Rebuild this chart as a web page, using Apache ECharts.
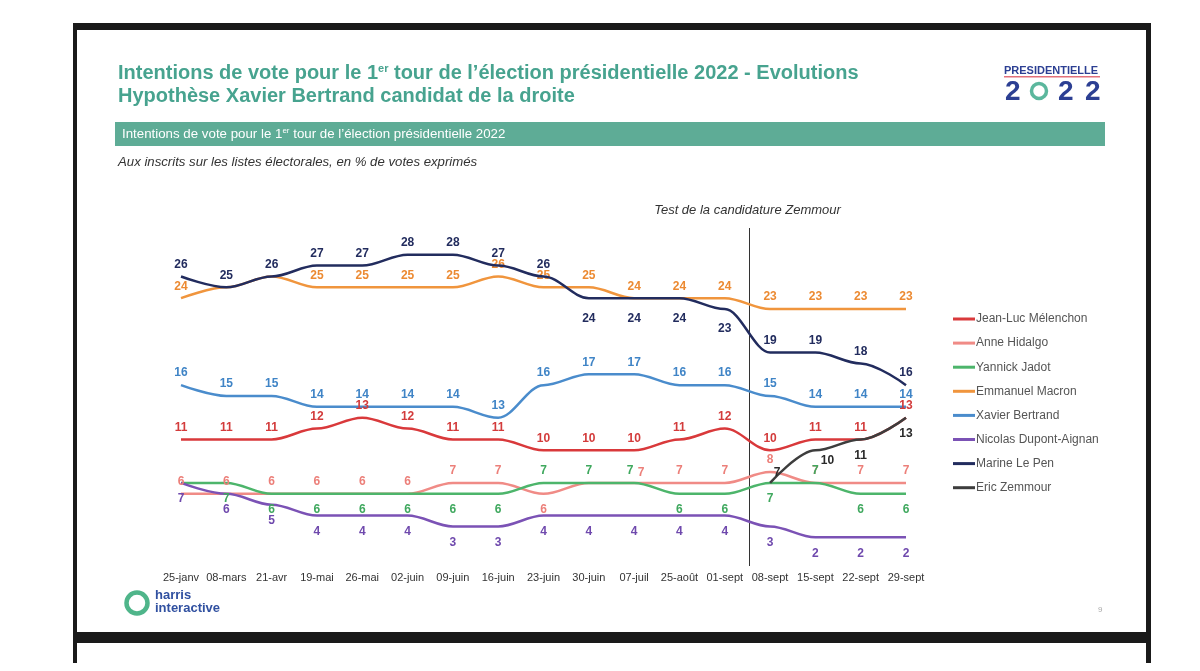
<!DOCTYPE html>
<html><head><meta charset="utf-8">
<script src="https://cdn.jsdelivr.net/npm/echarts@6/dist/echarts.min.js"></script>
<style>html,body{margin:0;padding:0;background:#fff}#c{width:1200px;height:671px}</style>
</head><body><div id="c"></div>
<script>
// ---- DATA ----
const categories = ['25-janv','08-mars','21-avr','19-mai','26-mai','02-juin','09-juin','16-juin','23-juin','30-juin','07-juil','25-août','01-sept','08-sept','15-sept','22-sept','29-sept'];
const melenchon = [11,11,11,12,13,12,11,11,10,10,10,11,12,10,11,11,13];
const hidalgo   = [6,6,6,6,6,6,7,7,6,7,7,7,7,8,7,7,7];
const jadot     = [7,7,6,6,6,6,6,6,7,7,7,6,6,7,7,6,6];
const macron    = [24,25,26,25,25,25,25,26,25,25,24,24,24,23,23,23,23];
const bertrand  = [16,15,15,14,14,14,14,13,16,17,17,16,16,15,14,14,14];
const dupont    = [7,6,5,4,4,4,3,3,4,4,4,4,4,3,2,2,2];
const lepen     = [26,25,26,27,27,28,28,27,26,24,24,24,23,19,19,18,16];
const zemmour   = [null,null,null,null,null,null,null,null,null,null,null,null,null,7,10,11,13];
const seriesNames = ['Jean-Luc Mélenchon','Anne Hidalgo','Yannick Jadot','Emmanuel Macron','Xavier Bertrand','Nicolas Dupont-Aignan','Marine Le Pen','Eric Zemmour'];
const seriesValues = [melenchon,hidalgo,jadot,macron,bertrand,dupont,lepen,zemmour];

// ---- STYLE ----
const colors = ['#d9393b','#f08b86','#4db56b','#f0953d','#4a8ccc','#7b52b5','#222c5e','#3d3d3d'];
const labelColors = ['#d33b3b','#ec7f79','#3fa85e','#ec8a32','#3f84c6','#6f49ad','#222c5e','#2a2a2a'];
// t=top b=bottom B=bottom far n=none R=top shifted right L=top shifted left S=bottom shifted right
const labelPlace = [
  'ttttttttttttttttt',
  'ttttttttbnRtttttt',
  'nbbbbbbbttLbbbtbb',
  'tnntttttttttttttt',
  'ttttttttttttttttt',
  'bbbbbbbbbbbbbbbbb',
  'tttttttttBBBBtttt',
  'nnnnnnnnnnnnnRSbb'
];
const sans = "'Liberation Sans',Arial,sans-serif";

function buildData(vals, places){
  return vals.map((v,i)=>{
    const p = places[i];
    if (v===null) return null;
    const item = {value:v, label:{}};
    if (p==='n') item.label.show=false;
    else if (p==='b') { item.label.position='bottom'; item.label.distance=10; }
    else if (p==='B') { item.label.position='bottom'; item.label.distance=14; }
    else if (p==='S') { item.label.position='bottom'; item.label.distance=4; item.label.offset=[12,0]; }
    else if (p==='R') { item.label.position='top'; item.label.offset=[7,2]; }
    else if (p==='L') { item.label.position='top'; item.label.offset=[-4,0]; }
    else item.label.position='top';
    return item;
  });
}

const series = seriesNames.map((n,k)=>({
  name:n, type:'line', data:buildData(seriesValues[k], labelPlace[k]),
  smooth:0.35, smoothMonotone:'x', showSymbol:true, symbol:'circle', symbolSize:0,
  connectNulls:false,
  lineStyle:{width:2.5,color:colors[k]}, itemStyle:{color:colors[k]},
  label:{show:true, color:labelColors[k], fontFamily:sans, fontWeight:'bold', fontSize:12, distance:6},
  z: k===6 ? 5 : 2
}));

const staticGraphic = [
  // frame
  {type:'rect', shape:{x:73,y:23,width:1078,height:7}, style:{fill:'#1a1a1a'}},
  {type:'rect', shape:{x:73,y:23,width:4,height:640}, style:{fill:'#1a1a1a'}},
  {type:'rect', shape:{x:1146,y:23,width:5,height:640}, style:{fill:'#1a1a1a'}},
  {type:'rect', shape:{x:73,y:632,width:1078,height:11}, style:{fill:'#1a1a1a'}},
  // titles
  {type:'text', left:118, top:63, style:{text:'{a|Intentions de vote pour le 1}{s|er}{a| tour de l’élection présidentielle 2022 - Evolutions}', rich:{a:{fontFamily:sans,fontWeight:'bold',fontSize:20,fill:'#47a38f'},s:{fontFamily:sans,fontWeight:'bold',fontSize:11,fill:'#47a38f',verticalAlign:'top',padding:[0,0,10,0]}}}},
  {type:'text', left:118, top:86, style:{text:'Hypothèse Xavier Bertrand candidat de la droite', fontFamily:sans, fontWeight:'bold', fontSize:20, fill:'#47a38f'}},
  {type:'rect', shape:{x:115,y:122,width:990,height:24}, style:{fill:'#5eac96'}},
  {type:'text', left:122, top:127, style:{text:'{a|Intentions de vote pour le 1}{s|er}{a| tour de l’élection présidentielle 2022}', rich:{a:{fontFamily:sans,fontSize:13.3,fill:'#ffffff'},s:{fontFamily:sans,fontSize:8,fill:'#ffffff',padding:[0,0,6,0]}}}},
  {type:'text', left:118, top:156, style:{text:'Aux inscrits sur les listes électorales, en % de votes exprimés', fontFamily:sans, fontStyle:'italic', fontSize:13.2, fill:'#333'}},
  // presidentielle logo
  {type:'text', left:1004, top:65, style:{text:'PRESIDENTIELLE', fontFamily:sans, fontWeight:'bold', fontSize:11, fill:'#2c3f93'}},
  {type:'rect', shape:{x:1004,y:76,width:96,height:1.5}, style:{fill:'#e3707a'}},
  {type:'text', left:1005, top:78, style:{text:'2', fontFamily:sans, fontWeight:'bold', fontSize:28, fill:'#2c3f93'}},
  {type:'circle', shape:{cx:1039,cy:91,r:7.5}, style:{fill:'none', stroke:'#5bb79d', lineWidth:3.5}},
  {type:'text', left:1058, top:78, style:{text:'2', fontFamily:sans, fontWeight:'bold', fontSize:28, fill:'#2c3f93'}},
  {type:'text', left:1085, top:78, style:{text:'2', fontFamily:sans, fontWeight:'bold', fontSize:28, fill:'#2c3f93'}},
  // harris logo
  {type:'circle', shape:{cx:137,cy:603,r:10.5}, style:{fill:'none', stroke:'#4fb58a', lineWidth:4.5}},
  {type:'text', left:155, top:589, style:{text:'harris', fontFamily:sans, fontWeight:'bold', fontSize:13, fill:'#3050a0', lineHeight:13}},
  {type:'text', left:155, top:602, style:{text:'interactive', fontFamily:sans, fontWeight:'bold', fontSize:13, fill:'#3050a0', lineHeight:13}},
  {type:'text', left:1098, top:606, style:{text:'9', fontFamily:sans, fontSize:8, fill:'#aaa'}}
];

const chart = echarts.init(document.getElementById('c'), null, {renderer:'canvas'});
const option = {
  backgroundColor:'#ffffff',
  animation:false,
  grid:{left:181, right:294, top:233, bottom:112, containLabel:false},
  xAxis:{type:'category', data:categories, boundaryGap:false,
    axisLine:{show:false}, axisTick:{show:false}, splitLine:{show:false},
    axisLabel:{color:'#333', fontFamily:sans, fontSize:11, margin:13, interval:0}},
  yAxis:{type:'value', min:0, max:30, show:false, splitLine:{show:false}},
  legend:{orient:'vertical', left:948, top:307, itemGap:10.1, icon:'rect', itemWidth:22, itemHeight:3,
    textStyle:{color:'#555', fontFamily:sans, fontSize:12, padding:[0,0,0,-4], lineHeight:14},
    data:seriesNames},
  series:series,
  graphic:{elements:staticGraphic}
};
chart.setOption(option);
const x1 = chart.convertToPixel({xAxisIndex:0}, 12);
const x2 = chart.convertToPixel({xAxisIndex:0}, 13);
const xm = Math.round((x1+x2)/2)+2.5;
chart.setOption({graphic:{elements: staticGraphic.concat([
  {type:'line', shape:{x1:xm,y1:228,x2:xm,y2:566}, style:{stroke:'#333', lineWidth:1}},
  {type:'text', x:xm-2, y:204, style:{text:'Test de la candidature Zemmour', fontFamily:sans, fontStyle:'italic', fontSize:13, fill:'#333', align:'center'}}
])}});
</script></body></html>
